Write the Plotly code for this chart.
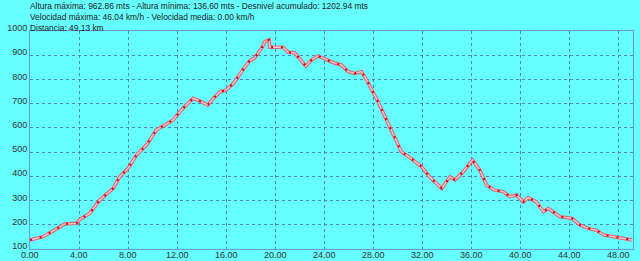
import plotly.graph_objects as go

dist_km = [0.0, 1.06, 2.0, 2.83, 3.8, 4.06, 4.87, 5.69, 6.78, 7.32, 8.0, 8.69, 9.5, 10.3,
           11.0, 11.67, 12.36, 13.3, 13.7, 14.5, 15.1, 15.5, 16.0, 16.6, 17.26, 17.9,
           18.3, 18.9, 19.16, 19.5, 19.57, 20.65, 21.06, 21.6, 22.5, 22.97, 23.5, 24.2,
           24.87, 25.4, 25.96, 26.5, 27.05, 27.46, 28.0, 28.4, 28.96, 29.6, 30.3, 31.27,
           31.95, 32.6, 33.6, 34.26, 34.67, 35.35, 36.1, 36.7, 37.26, 37.9, 38.6, 39.16,
           39.7, 40.25, 40.65, 41.3, 41.9, 42.3, 43.24, 44.2, 44.87, 45.8, 46.2, 46.8,
           48.1, 49.13]
elev_m = [137, 151, 178, 203, 206, 222, 247, 302, 350, 398, 433, 488, 529, 591,
          612, 633, 674, 722, 715, 694, 729, 749, 756, 784, 832, 876,
          887, 929, 956, 962.86, 933, 933, 912, 910, 855, 880, 897, 880,
          867, 860, 832, 825, 832, 798, 749, 708, 646, 578, 502, 467,
          440, 398, 350, 398, 385, 419, 467, 426, 364, 343, 337, 316,
          323, 295, 312, 295, 254, 268, 233, 227, 199, 181, 178, 158,
          147, 137]

x_ticks = [0, 4, 8, 12, 16, 20, 24, 28, 32, 36, 40, 44, 48]
x_tick_labels = ["0.00", "4.00", "8.00", "12.00", "16.00", "20.00", "24.00", "28.00",
                 "32.00", "36.00", "40.00", "44.00", "48.00"]

header_lines = [
    "Altura máxima: 962.86 mts - Altura mínima: 136.60 mts - Desnivel acumulado: 1202.94 mts",
    "Velocidad máxima: 46.04 km/h - Velocidad media: 0.00 km/h",
    "Distancia: 49.13 km",
]

BG = "rgb(102,255,255)"
GRID = "rgb(80,130,190)"
AXIS = "rgb(110,150,225)"
FONT = "Liberation Sans, Arial, sans-serif"

fig = go.Figure()
fig.add_trace(go.Scatter(x=dist_km, y=elev_m, mode="lines",
                         line=dict(color="rgb(215,105,120)", width=3.5),
                         hoverinfo="skip", showlegend=False))
fig.add_trace(go.Scatter(x=dist_km, y=elev_m, mode="lines",
                         line=dict(color="rgb(240,200,205)", width=1.3),
                         hoverinfo="skip", showlegend=False))
fig.add_trace(go.Scatter(x=dist_km, y=elev_m, mode="lines",
                         line=dict(color="rgb(225,0,0)", width=2, dash="2px,8px"),
                         showlegend=False))

for i, t in enumerate(header_lines):
    fig.add_annotation(text=t, xref="paper", yref="paper", x=0, xanchor="left",
                       xshift=-2,
                       y=1 + (31 - (6 + 11 * i)) / 218, yanchor="middle",
                       showarrow=False, font=dict(family=FONT, size=8.4, color="#222"))

for xv, lab in zip(x_ticks, x_tick_labels):
    fig.add_annotation(text=lab, x=xv, xref="x", y=0, yref="paper",
                       yanchor="top", xanchor="center", showarrow=False,
                       yshift=0, borderpad=0,
                       font=dict(family=FONT, size=9, color="#333"))

fig.update_layout(
    width=640, height=261,
    margin=dict(l=30, r=7, t=31, b=12, autoexpand=False),
    paper_bgcolor=BG, plot_bgcolor=BG,
    font=dict(family=FONT, size=9, color="#333"),
    xaxis=dict(range=[0, 49.2], tickvals=x_ticks, showticklabels=False,
               showgrid=True, gridcolor=GRID, griddash="dot", gridwidth=1,
               showline=True, linecolor=AXIS, linewidth=1, mirror=True,
               zeroline=False, ticks="", automargin=False),
    yaxis=dict(range=[100, 1000], dtick=100, tick0=100,
               showgrid=True, gridcolor=GRID, griddash="dot", gridwidth=1,
               showline=True, linecolor=AXIS, linewidth=1, mirror=True,
               zeroline=False, ticks="", automargin=False, ticklabelstandoff=0,
               ticklabelshift=-3,
               tickfont=dict(size=9, color="#333")),
)

fig.write_html("out.html")
